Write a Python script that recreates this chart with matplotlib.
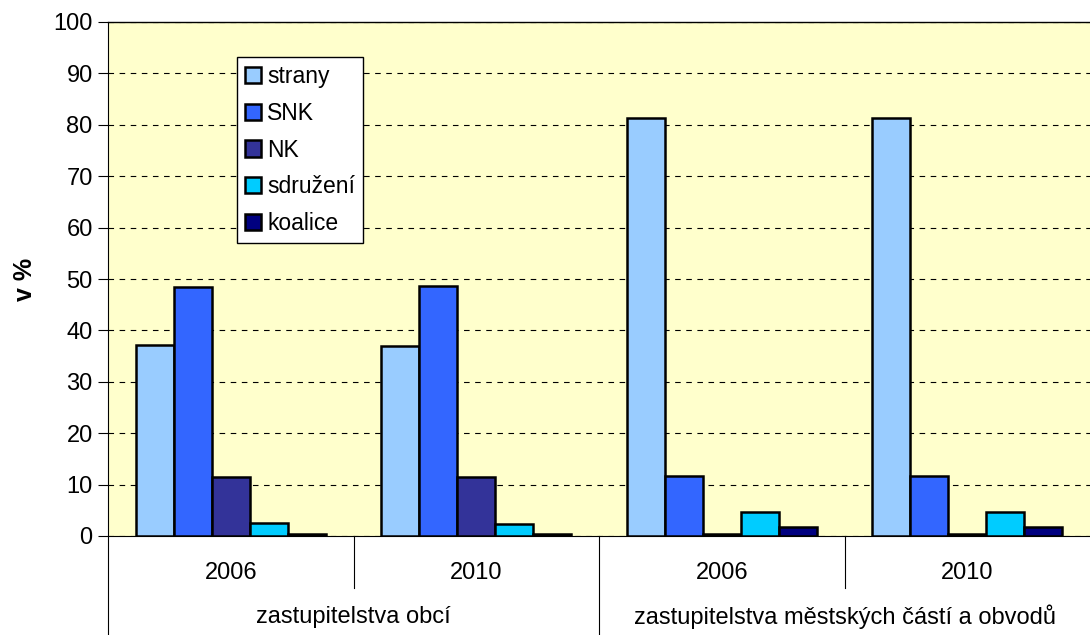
import matplotlib
matplotlib.use('Agg')
import matplotlib.pyplot as plt
import numpy as np

years = ['2006', '2010', '2006', '2010']
groups = ['zastupitelstva obcí', 'zastupitelstva městských částí a obvodů']
series = ['strany', 'SNK', 'NK', 'sdružení', 'koalice']
colors = ['#99CCFF', '#3366FF', '#333399', '#00CCFF', '#000080']
strany = [37.2, 37.0, 81.3, 81.3]
snk = [48.4, 48.6, 11.7, 11.7]
nk = [11.5, 11.4, 0.3, 0.3]
sdruzeni = [2.5, 2.3, 4.7, 4.7]
koalice = [0.3, 0.3, 1.8, 1.8]
values = [strany, snk, nk, sdruzeni, koalice]

plt.rcParams['font.family'] = ['Liberation Sans', 'DejaVu Sans']

fig = plt.figure(figsize=(10.9, 6.35), dpi=100)
ax = fig.add_axes([108 / 1090, 1 - 536 / 635, 982 / 1090, 514 / 635])
ax.set_facecolor('#FFFFCC')

x = np.arange(len(years))
w = 0.155
for i, (name, vals) in enumerate(zip(series, values)):
    ax.bar(x + (i - 2) * w, vals, w, color=colors[i], edgecolor='black',
           linewidth=1.8, label=name, zorder=3)

ax.set_xlim(-0.5, 3.5)
ax.set_ylim(0, 100)
ax.set_yticks(range(0, 101, 10))
ax.tick_params(axis='y', labelsize=17, length=7, direction='out', pad=4)
ax.set_xticks([])
ax.yaxis.grid(True, color='black', linestyle=(0, (5, 5)), linewidth=0.8)
ax.set_axisbelow(True)
for s in ['left', 'top', 'bottom']:
    ax.spines[s].set_color('black')
ax.spines['right'].set_visible(False)
ax.spines['top'].set_linewidth(1.0)

ax.set_ylabel('v %', fontsize=18, fontweight='bold', labelpad=12)

# two level category axis
trans = ax.get_xaxis_transform()
y_year = -(573 - 536) / 514
y_grp = -(617 - 536) / 514
for xi, lbl in zip(x, years):
    ax.text(xi, y_year, lbl, transform=trans, ha='center', va='center', fontsize=17)
for gx, lbl in zip([0.5, 2.5], groups):
    ax.text(gx, y_grp, lbl, transform=trans, ha='center', va='center', fontsize=17)
y_mid = -(588 - 536) / 514
y_bot = -(635 - 536) / 514
for xv in [0.5, 2.5]:
    ax.plot([xv, xv], [0, y_mid], transform=trans, color='black', lw=0.8, clip_on=False)
for xv in [-0.5, 1.5]:
    ax.plot([xv, xv], [0, y_bot], transform=trans, color='black', lw=0.8, clip_on=False)

leg = ax.legend(loc='upper left', bbox_to_anchor=((237 - 108) / 982, (536 - 57) / 514),
                borderaxespad=0, fontsize=16.5,
                frameon=True, fancybox=False, edgecolor='black', framealpha=1,
                handlelength=0.7, handleheight=0.7, handletextpad=0.26,
                labelspacing=0.6, borderpad=0.35)
leg.get_frame().set_linewidth(1.0)

fig.savefig('out.png', dpi=100)
